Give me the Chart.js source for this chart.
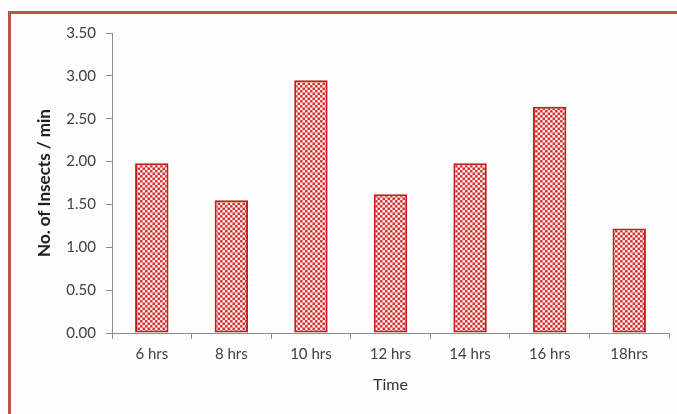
<!DOCTYPE html>
<html>
<head>
<meta charset="utf-8">
<script src="https://cdn.jsdelivr.net/npm/chart.js@4"></script>
<style>
  html, body { margin: 0; padding: 0; background: #fdfdfd; }
  #wrap { position: relative; width: 677px; height: 414px; overflow: hidden; }
  #frame { position: absolute; left: 8px; top: 11px; right: -10px; bottom: -10px;
           border-left: 3px solid #c0504d; border-top: 3px solid #c0504d; }
  canvas { position: absolute; left: 0; top: 0; }
</style>
</head>
<body>
<div id="wrap">
  <div id="frame"></div>
  <canvas id="c" width="677" height="414"></canvas>
</div>
<script>
const categories = ['6 hrs', '8 hrs', '10 hrs', '12 hrs', '14 hrs', '16 hrs', '18hrs'];
const insectsPerMin = [1.98, 1.55, 2.95, 1.62, 1.98, 2.64, 1.22];
const yTicks = [0, 0.5, 1, 1.5, 2, 2.5, 3, 3.5];

// red/white checkerboard used as bar fill (cells of 2.5px)
function checker() {
  const p = document.createElement('canvas');
  p.width = 4; p.height = 4;
  const g = p.getContext('2d');
  g.fillStyle = '#ffffff'; g.fillRect(0, 0, 4, 4);
  g.fillStyle = '#d42424';
  g.fillRect(0, 0, 2, 2);
  g.fillRect(2, 2, 2, 2);
  const pat = g.createPattern(p, 'repeat');
  pat.setTransform(new DOMMatrix().scale(1.25));
  return pat;
}

const font = "'Lato', 'Open Sans', sans-serif";

new Chart(document.getElementById('c'), {
  type: 'bar',
  data: {
    labels: categories,
    datasets: [{
      data: insectsPerMin,
      backgroundColor: checker(),
      borderColor: '#c81c1c',
      borderWidth: 2,
      borderSkipped: false,
      categoryPercentage: 1,
      barPercentage: 0.42
    }]
  },
  options: {
    responsive: false,
    animation: false,
    layout: { padding: { left: 0, top: 33, right: 8, bottom: 0 } },
    plugins: { legend: { display: false }, tooltip: { enabled: false } },
    scales: {
      x: {
        grid: { display: true, drawOnChartArea: false, drawTicks: true, tickLength: 6, color: '#8c8c8c', offset: true },
        border: { color: '#8c8c8c', width: 1 },
        ticks: { color: '#404040', font: { family: font, size: 15 }, padding: 6 },
        title: { display: true, text: 'Time', color: '#303030', font: { family: font, size: 16 }, padding: { top: 0, bottom: 20 } },
        afterFit: s => { s.height = 81; }
      },
      y: {
        min: 0, max: 3.5,
        afterBuildTicks: s => { s.ticks = yTicks.map(v => ({ value: v })); },
        grid: { display: true, drawOnChartArea: false, drawTicks: true, tickLength: 6, color: '#8c8c8c' },
        border: { color: '#8c8c8c', width: 1 },
        ticks: { color: '#404040', font: { family: font, size: 15 }, padding: 10,
                 callback: v => Number(v).toFixed(2) },
        title: { display: true, text: 'No. of Insects / min', color: '#202020',
                 font: { family: font, size: 17, weight: 'bold' }, padding: { top: 34, bottom: 0 } },
        afterFit: s => { s.width = 112; }
      }
    }
  }
});
</script>
</body>
</html>
